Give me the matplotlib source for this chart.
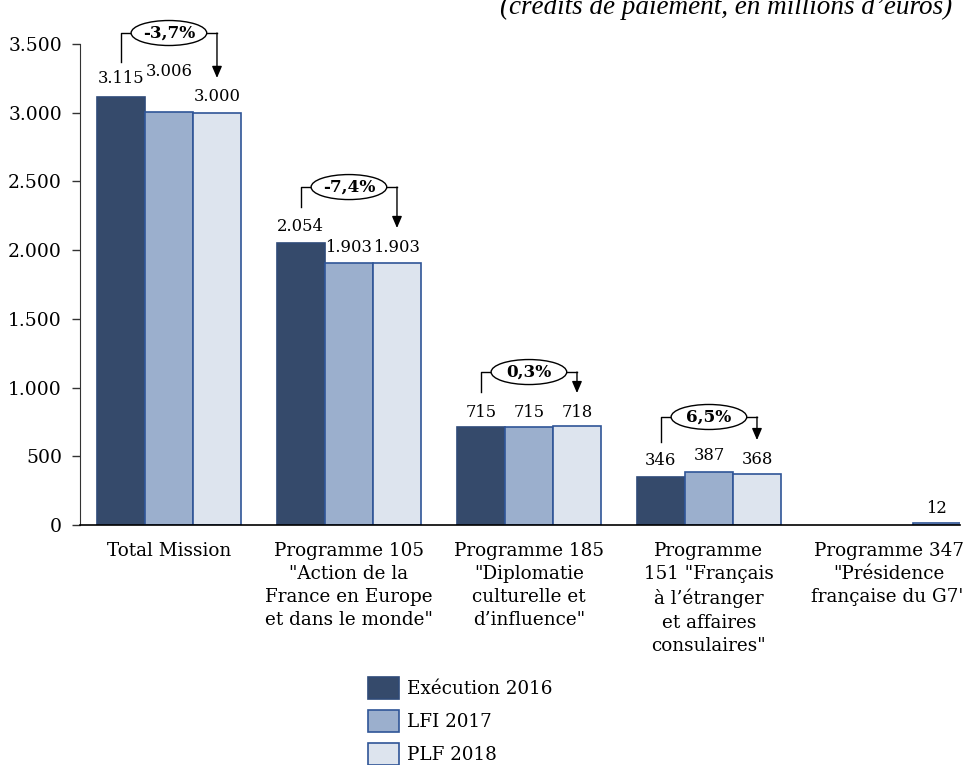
import matplotlib
matplotlib.use("Agg")
import matplotlib.pyplot as plt
from matplotlib.patches import Patch, Ellipse

# Data (crédits de paiement, en millions d'euros)
categories = [
    "Total Mission",
    "Programme 105\n\"Action de la\nFrance en Europe\net dans le monde\"",
    "Programme 185\n\"Diplomatie\nculturelle et\nd\u2019influence\"",
    "Programme\n151 \"Fran\u00e7ais\n\u00e0 l\u2019\u00e9tranger\net affaires\nconsulaires\"",
    "Programme 347\n\"Pr\u00e9sidence\nfran\u00e7aise du G7\"",
]
series_names = ["Ex\u00e9cution 2016", "LFI 2017", "PLF 2018"]
exec_2016 = [3115, 2054, 715, 346, None]
lfi_2017 = [3006, 1903, 715, 387, None]
plf_2018 = [3000, 1903, 718, 368, 12]
variations = ["-3,7%", "-7,4%", "0,3%", "6,5%", None]
y_ticks = [0, 500, 1000, 1500, 2000, 2500, 3000, 3500]

# Styling / layout
FONT = "DejaVu Serif"
FS_TICK = 13.5
FS_CAT = 13.2
FS_VAL = 11.8
fills = ["#354A6B", "#9BAFCD", "#DDE4EE"]
edges = ["#2F4A78", "#2F5597", "#2F5597"]
bar_w = 0.267
offsets = [-bar_w, 0.0, bar_w]
# vertical offset (points) of each value label above its bar
label_pad = [[13, 29, 11.5], [11.5, 11.5, 11.5], [10, 10, 10], [12, 11.5, 11], [None, None, 11]]
# bracket geometry in data units: (bracket level, left line bottom, arrow tip)
brackets = [(3580, 3369, 3253), (2459, 2314, 2161), (1113, 968, 960), (786, 604, 618)]
ell_w, ell_h = 0.42, 182  # ellipse size in data units

plt.rcParams["font.family"] = [FONT]

fig = plt.figure(figsize=(9.63, 7.65), dpi=100)
ax = fig.add_axes([80 / 963, 240 / 765, 880 / 963, 481 / 765])

series = [exec_2016, lfi_2017, plf_2018]
for s, vals in enumerate(series):
    for i, v in enumerate(vals):
        if v is None:
            continue
        x = i + offsets[s]
        ax.bar(x, v, width=bar_w, color=fills[s], edgecolor=edges[s], linewidth=1.2, zorder=2)
        ax.annotate(f"{v:,}".replace(",", "."), (x, v), xytext=(0, label_pad[i][s]),
                    textcoords="offset points", ha="center", va="center", fontsize=FS_VAL,
                    annotation_clip=False)

# variation brackets with arrow from first to last series
for i, pct in enumerate(variations):
    if pct is None:
        continue
    level, left_bottom, tip = brackets[i]
    xl, xr = i + offsets[0], i + offsets[2]
    ax.plot([xl, xl, xr], [left_bottom, level, level], color="black", lw=1.0,
            clip_on=False, zorder=3)
    ax.annotate("", xy=(xr, tip), xytext=(xr, level),
                arrowprops=dict(arrowstyle="-|>,head_length=0.7,head_width=0.3",
                                color="black", lw=1.0, shrinkA=0, shrinkB=0),
                annotation_clip=False, zorder=3)
    ax.add_patch(Ellipse((i, level), ell_w, ell_h, fc="white", ec="black", lw=1.0,
                         zorder=4, clip_on=False))
    ax.text(i, level, pct, ha="center", va="center", fontsize=12.2, fontweight="bold",
            zorder=5, clip_on=False)

ax.set_xlim(-0.494, -0.494 + 880 / 180)
ax.set_ylim(0, 3500)
ax.set_yticks(y_ticks)
ax.set_yticklabels([f"{t:,}".replace(",", ".") for t in y_ticks], fontsize=FS_TICK)
ax.tick_params(axis="y", direction="out", length=6, width=1, pad=7, color="#333333")
ax.set_xticks(range(len(categories)))
ax.set_xticklabels(categories, fontsize=FS_CAT, linespacing=1.36, va="top")
ax.tick_params(axis="x", length=0, pad=12.5)
for side in ["top", "right"]:
    ax.spines[side].set_visible(False)
ax.spines["left"].set_color("#333333")
ax.spines["bottom"].set_color("black")
ax.spines["bottom"].set_linewidth(1.2)

handles = [Patch(facecolor=fills[k], edgecolor=edges[k], linewidth=1.2) for k in range(3)]
fig.legend(handles, series_names, loc="upper left", bbox_to_anchor=(368 / 963, 1 - 677 / 765),
           frameon=False, fontsize=FS_CAT, handlelength=1.7, handleheight=1.5,
           handletextpad=0.45, labelspacing=0.58, borderaxespad=0, borderpad=0)

fig.text(952 / 963, 1 - 14 / 765, "(cr\u00e9dits de paiement, en millions d\u2019euros)",
         ha="right", va="baseline", fontsize=19.5, style="italic", family="Liberation Serif")

fig.savefig("out.png", dpi=100)
